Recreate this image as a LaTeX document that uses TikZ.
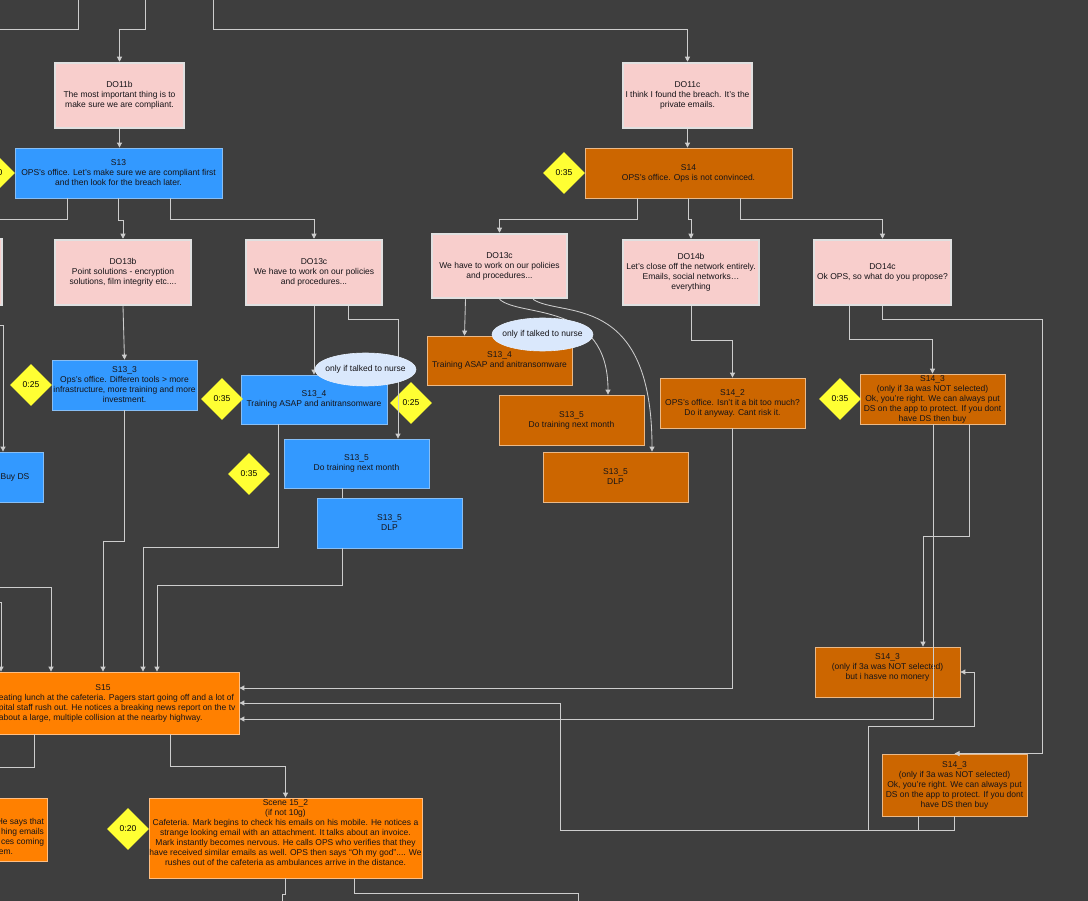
\documentclass[tikz,border=0pt]{standalone}
\usepackage{fontspec}
\setmainfont{Liberation Sans}
\usetikzlibrary{shapes.geometric,arrows.meta}
\definecolor{bg}{RGB}{62,62,62}
\definecolor{ln}{RGB}{205,205,205}
\definecolor{pinkf}{RGB}{248,206,204}
\definecolor{pinkd}{RGB}{224,224,224}
\definecolor{bluef}{RGB}{51,153,255}
\definecolor{blued}{RGB}{135,190,245}
\definecolor{dorf}{RGB}{204,102,0}
\definecolor{dord}{RGB}{235,185,135}
\definecolor{orf}{RGB}{255,128,0}
\definecolor{ord}{RGB}{255,190,130}
\definecolor{yel}{RGB}{255,255,51}
\definecolor{ellf}{RGB}{218,232,252}
\definecolor{txt}{RGB}{22,20,24}
\tikzset{
  base/.style={rectangle, inner sep=0pt, align=center, font=\fontsize{8.5}{10}\selectfont, text=txt},
  pinkbox/.style={base, fill=pinkf, draw=pinkd, line width=2.5pt},
  bluebox/.style={base, fill=bluef, draw=blued, line width=0.8pt},
  darkbox/.style={base, fill=dorf, draw=dord, line width=0.8pt},
  orbox/.style={base, fill=orf, draw=ord, line width=0.8pt},
  timer/.style={diamond, aspect=1, fill=yel, inner sep=0pt, minimum width=42pt, minimum height=42pt, font=\fontsize{8.5}{10}\selectfont, text=black},
  cond/.style={ellipse, fill=ellf, draw=ellf!70!white, line width=0.6pt, inner xsep=-5pt, inner ysep=0pt, minimum width=101pt, minimum height=33pt, font=\fontsize{8.5}{10}\selectfont, text=txt},
  wire/.style={draw=ln, line width=0.85pt},
  conn/.style={wire, -{Triangle[length=5pt,width=5pt]}},
}
\begin{document}
\begin{tikzpicture}[x=1pt,y=-1pt]
\useasboundingbox (0,0) rectangle (1088,901);
\fill[bg] (0,0) rectangle (1088,901);
\clip (0,0) rectangle (1088,901);

% pink decision boxes
\node[pinkbox, minimum width=129pt, minimum height=65pt] (do11b) at (119.5,95.5) {DO11b\\The most important thing is to\\make sure we are compliant.};
\node[pinkbox, minimum width=129pt, minimum height=65pt] (do11c) at (687.5,95.5) {DO11c\\I think I found the breach. It's the\\private emails.};
\node[pinkbox, minimum width=131pt, minimum height=66pt] (do13a) at (-63.5,272) {};
\node[pinkbox, minimum width=136pt, minimum height=65pt] (do13b) at (123,272.5) {DO13b\\Point solutions - encryption\\solutions, film integrity etc....};
\node[pinkbox, minimum width=136pt, minimum height=65pt] (do13c) at (314,272.5) {DO13c\\We have to work on our policies\\and procedures...};
\node[pinkbox, minimum width=135pt, minimum height=64pt] (do13cr) at (499.5,266) {DO13c\\We have to work on our policies\\and procedures...};
\node[pinkbox, minimum width=136pt, minimum height=65pt] (do14b) at (691,272.5) {DO14b\\Let's close off the network entirely.\\Emails, social networks…\\everything};
\node[pinkbox, minimum width=137pt, minimum height=65pt] (do14c) at (882.5,272.5) {DO14c\\Ok OPS, so what do you propose?};

% blue scenes
\node[bluebox, minimum width=207pt, minimum height=50pt] (s13) at (118.5,173) {S13\\OPS's office. Let's make sure we are compliant first\\and then look for the breach later.};
\node[bluebox, minimum width=145pt, minimum height=50pt] (s133) at (124.5,385) {S13\_3\\Ops's office. Differen tools > more\\infrastructure, more training and more\\investment.};
\node[bluebox, minimum width=146pt, minimum height=49pt] (s134) at (314,399.5) {S13\_4\\Training ASAP and anitransomware};
\node[bluebox, minimum width=145pt, minimum height=49pt] (s135) at (356.5,463.5) {S13\_5\\Do training next month};
\node[bluebox, minimum width=145pt, minimum height=50pt] (s135d) at (389.5,523) {S13\_5\\DLP};
\node[bluebox, minimum width=56pt, minimum height=50pt] (buyds) at (15,477) {Buy DS};

% dark orange scenes
\node[darkbox, minimum width=207pt, minimum height=50pt] (s14) at (688.5,173) {S14\\OPS's office. Ops is not convinced.};
\node[darkbox, minimum width=145pt, minimum height=49pt] (s134o) at (499.5,360.5) {S13\_4\\Training ASAP and anitransomware};
\node[darkbox, minimum width=145pt, minimum height=50pt] (s135o) at (571.5,420) {S13\_5\\Do training next month};
\node[darkbox, minimum width=145pt, minimum height=50pt] (s135do) at (615.5,477) {S13\_5\\DLP};
\node[darkbox, minimum width=145pt, minimum height=50pt] (s142) at (732.5,403) {S14\_2\\OPS's office. Isn't it a bit too much?\\Do it anyway. Cant risk it.};
\node[darkbox, minimum width=145pt, minimum height=50pt] (s143a) at (932.5,399) {S14\_3\\(only if 3a was NOT selected)\\Ok, you're right. We can always put\\DS on the app to protect. If you dont\\have DS then buy};
\node[darkbox, minimum width=145pt, minimum height=50pt] (s143b) at (887.5,672) {S14\_3\\(only if 3a was NOT selected)\\but i hasve no monery\\\mbox{}};
\node[darkbox, minimum width=145pt, minimum height=62pt] (s143c) at (954.5,785) {S14\_3\\(only if 3a was NOT selected)\\Ok, you're right. We can always put\\DS on the app to protect. If you dont\\have DS then buy};

% bright orange scenes
\node[orbox, minimum width=272pt, minimum height=62pt] (s15) at (103,703) {\makebox[262pt][c]{S15}\\\makebox[262pt][l]{\hspace*{27pt}eating lunch at the cafeteria. Pagers start going off and a lot of}\\\makebox[262pt][l]{\hspace*{27pt}pital staff rush out. He notices a breaking news report on the tv}\\\makebox[262pt][l]{\hspace*{27pt}about a large, multiple collision at the nearby highway.}};
\node[orbox, minimum width=273pt, minimum height=80pt] (s152) at (285.5,838) {Scene 15\_2\\(if not 10g)\\Cafeteria. Mark begins to check his emails on his mobile. He notices a\\strange looking email with an attachment. It talks about an invoice.\\Mark instantly becomes nervous. He calls OPS who verifies that they\\have received similar emails as well. OPS then says “Oh my god”.... We\\rushes out of the cafeteria as ambulances arrive in the distance.\\\mbox{}};
\node[orbox, minimum width=147pt, minimum height=63pt] (leftor) at (-26.5,829.5) {\mbox{}\\\mbox{}\\\makebox[141pt][r]{He says that}\\\makebox[141pt][r]{hing emails}\\\makebox[141pt][r]{ces coming}\\\makebox[141pt][r]{em.\hspace*{31pt}}};

% timers
\node[timer] (d1) at (-6,173) {0:20};
\node[timer] (d2) at (564,173) {0:35};
\node[timer] (d3) at (31,385) {0:25};
\node[timer] (d4) at (222,399) {0:35};
\node[timer] (d5) at (411,403) {0:25};
\node[timer] (d6) at (249,474) {0:35};
\node[timer] (d7) at (840,399) {0:35};
\node[timer] (d8) at (128,829) {0:20};

% free ends off the canvas
\coordinate (t1) at (78,-5);
\coordinate (t1e) at (-5,29);
\coordinate (t2) at (145,-5);
\coordinate (t3) at (213,-5);
\coordinate (l1) at (-5,219);
\coordinate (l2) at (-5,325);
\coordinate (l3) at (-5,587);
\coordinate (l4) at (-5,602);
\coordinate (l5) at (-5,767);
\coordinate (b1) at (282,906);
\coordinate (b2) at (578,906);

% connectors
\draw[wire] (t1) |- (t1e);
\draw[conn] (t2) |- (119.5,29) -- (do11b.north);
\draw[conn] (t3) |- (687.5,29) -- (do11c.north);
\draw[conn] (do11b.south) -- (do11b.south |- s13.north);
\draw[conn] (do11c.south) -- (do11c.south |- s14.north);
\draw[wire] ([xshift=-51.5pt]s13.south) |- (l1);
\draw[conn] ([xshift=-0.5pt]s13.south) -- (118,220) -- (123,220) -- (do13b.north);
\draw[conn] ([xshift=51.5pt]s13.south) |- (314,219) -- (do13c.north);
\draw[conn] (do13b.south) -- (s133.north);
\draw[conn] (do13c.south) -- (s134.north);
\draw[conn] ([xshift=34pt]do13c.south) |- (398,319) -- ([xshift=41.5pt]s135.north);
\draw[wire] ([xshift=-14.5pt]s135.south) -- ([xshift=-47.5pt]s135d.north);
\draw[conn] ([xshift=-0.5pt]s133.south) |- (103,541) -- (s15.north);
\draw[conn] ([xshift=-36pt]s134.south) |- (143,547) -- ([xshift=40pt]s15.north);
\draw[conn] ([xshift=-47.5pt]s135d.south) |- (157,585) -- ([xshift=54pt]s15.north);
\draw[conn] (l3) -| ([xshift=-52pt]s15.north);
\draw[conn] (l4) -| ([xshift=-102pt]s15.north);
\draw[conn] (l2) -| ([xshift=-12pt]buyds.north);
\draw[conn] ([xshift=-51.5pt]s14.south) |- (499.5,219) -- (do13cr.north);
\draw[conn] (s14.south) |- (691,219) -- (do14b.north);
\draw[conn] ([xshift=51.5pt]s14.south) |- (882.5,219) -- (do14c.north);
\draw[conn] ([xshift=-34pt]do13cr.south) -- ([xshift=-35pt]s134o.north);
\draw[conn] (do13cr.south) .. controls (520,318) and (608,300) .. ([xshift=36.5pt]s135o.north);
\draw[conn] ([xshift=33.5pt]do13cr.south) .. controls (560,318) and (652,290) .. ([xshift=36.5pt]s135do.north);
\draw[conn] (do14b.south) |- (732.5,340) -- (s142.north);
\draw[conn] (s142.south) |- ([yshift=15pt]s15.east);
\draw[conn] ([xshift=-0.5pt]s143c.south) |- (560,830) |- (s15.east);
\draw[conn] ([xshift=0.5pt]s143a.south) |- ([yshift=-16pt]s15.east);
\draw[conn] ([xshift=36.5pt]s143a.south) |- (923,536) -- ([xshift=35.5pt]s143b.north);
\draw[conn] ([xshift=-36.5pt]s143c.south) |- (868,830) |- (974,726) |- (s143b.east);
\draw[conn] ([xshift=-33.5pt]do14c.south) |- (932.5,339) -- (s143a.north);
\draw[conn] (do14c.south) |- (1042,319) |- (s143c.north);
\draw[conn] ([xshift=67pt]s15.south) |- (285.5,766) -- (s152.north);
\draw[wire] ([xshift=-69pt]s15.south) |- (l5);
\draw[wire] (s152.south) |- (282,894) -- (b1);
\draw[wire] ([xshift=68.5pt]s152.south) |- (578,893) -- (b2);

% condition bubbles
\node[cond] (e1) at (365.5,369.5) {only if talked to nurse};
\node[cond] (e2) at (542.5,334.5) {only if talked to nurse};
\end{tikzpicture}
\end{document}
